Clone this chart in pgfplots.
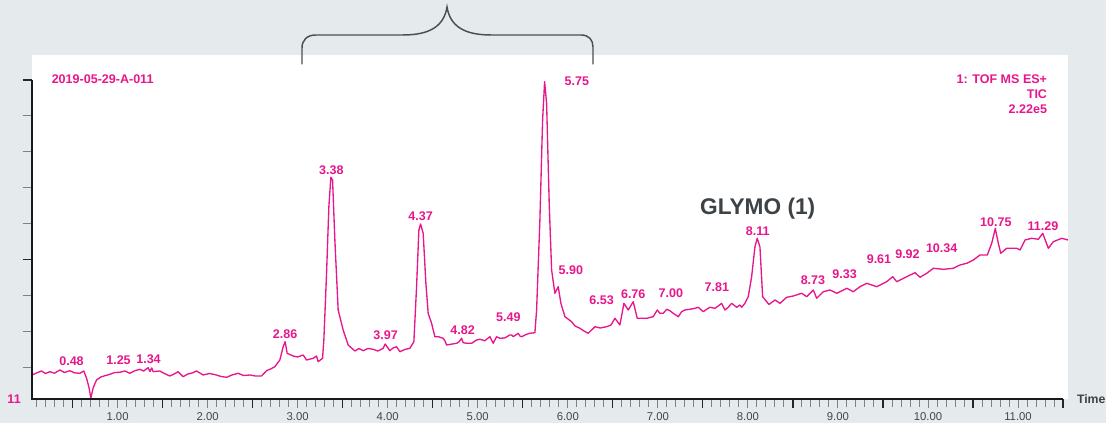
\documentclass[border=0pt]{standalone}
\usepackage{pgfplots}
\pgfplotsset{compat=1.18}
\usepackage{fontspec}
\setmainfont{Liberation Sans}
\definecolor{bggray}{RGB}{229,234,237}
\definecolor{mag}{RGB}{232,22,140}
\definecolor{tickgray}{RGB}{130,130,130}
\definecolor{labelgray}{RGB}{70,70,70}
\definecolor{darktext}{RGB}{61,66,70}
\definecolor{bracegray}{RGB}{74,79,85}
\newcommand{\pk}{\fontsize{9.4pt}{11pt}\selectfont\bfseries}
\begin{document}
\begin{tikzpicture}
\fill[bggray] (0,0) rectangle (829.5pt,317.25pt);
\begin{axis}[
  at={(24pt,18pt)}, anchor=south west,
  scale only axis, width=777pt, height=258pt,
  xmin=0.05, xmax=11.555, ymin=0, ymax=344,
  axis background/.style={fill=white},
  axis line style={draw=none},
  clip=false,
  tick align=outside,
  xtick pos=left, ytick pos=left,
  major tick length=7pt, minor tick length=6pt,
  tick style={color=tickgray, line width=0.7pt},
  xtick={1,2,3,4,5,6,7,8,9,10,11},
  xticklabels={1.00,2.00,3.00,4.00,5.00,6.00,7.00,8.00,9.00,10.00,11.00},
  xticklabel style={font=\fontsize{8.5pt}{10pt}\selectfont, text=labelgray},
  minor xtick={0.1,0.2,...,11.5},
  extra x ticks={0.5,1.5,2.5,3.5,4.5,5.5,6.5,7.5,8.5,9.5,10.5,11.5},
  extra x tick labels={},
  extra x tick style={tick style={color=black!85, line width=0.9pt}},
  ytick={31.8,67.7,103.6,175.4,211.3,247.2,283.1},
  yticklabels={},
  extra y ticks={139.5,319},
  extra y tick labels={},
  extra y tick style={tick style={color=black!85, line width=0.9pt}},
]
\addplot[mag, line width=1pt, line join=round] coordinates {
(0.05,24) (0.10,26) (0.1555,28) (0.20,25.5) (0.2477,27.3) (0.30,25.8) (0.3588,29) (0.41,26.5)
(0.4698,28.3) (0.52,26.2) (0.5809,25.7) (0.6253,28) (0.6553,21) (0.6842,11) (0.7031,0.7)
(0.7286,11) (0.7664,19) (0.8219,22.3) (0.87,23.5) (0.9141,24.7) (0.97,26.5) (1.0252,26.7)
(1.08,28) (1.1363,25.7) (1.19,28.2) (1.2473,29.7) (1.29,28) (1.3395,31.3) (1.36,27.5)
(1.38,31) (1.3951,27.3) (1.4695,28) (1.52,25.5) (1.5806,23) (1.63,25) (1.6728,27.3)
(1.7283,22.3) (1.78,25) (1.83,26) (1.8772,28) (1.9505,24) (2.02,25.5) (2.0993,24)
(2.15,22.5) (2.2104,21.7) (2.27,24) (2.3392,25.7) (2.40,23.5) (2.4692,24) (2.53,23)
(2.5991,23) (2.6547,28.3) (2.70,30) (2.7469,32.3) (2.8024,39) (2.8391,52.3) (2.8613,57.3)
(2.8835,45.7) (2.9501,43) (3.0,42) (3.0612,44) (3.0989,39) (3.1723,40.7) (3.2100,43)
(3.2278,37.3) (3.2767,40.7) (3.2911,59) (3.3211,125.7) (3.3467,192.3) (3.3689,221.7)
(3.3878,219) (3.4133,159) (3.4500,89) (3.5055,69) (3.5611,54) (3.6355,48) (3.68,50.5)
(3.7277,48.3) (3.78,50.5) (3.8388,49.7) (3.89,48) (3.9498,50.7) (3.9720,55) (4.0242,48.3)
(4.06,51) (4.0986,52.3) (4.1353,47.3) (4.19,49.5) (4.2463,50.7) (4.2908,57.3) (4.3208,112.3)
(4.3463,169) (4.3652,175) (4.3941,165.7) (4.4241,115.7) (4.4496,85.7) (4.4874,75.7)
(4.5240,62.3) (4.561,62.3) (4.6162,60.7) (4.635,58.3) (4.6540,54) (4.7650,55.7) (4.794,57.3)
(4.8206,60.7) (4.838,56.3) (4.8761,55.7) (4.932,55.7) (4.987,59) (5.0238,59.7) (5.079,58.3)
(5.135,62.3) (5.1716,55.7) (5.209,62.3) (5.2460,60.7) (5.30,61) (5.357,64) (5.3760,64)
(5.394,62.3) (5.449,65.7) (5.4682,63) (5.487,62.3) (5.543,64.7) (5.5793,65.7) (5.6348,66.3)
(5.6537,89) (5.6903,179) (5.7203,279) (5.7425,317.3) (5.7648,295.7) (5.7936,195.7)
(5.8203,129) (5.8569,105.7) (5.8936,112.3) (5.9236,95.7) (5.9680,82.3) (6.0424,77.3)
(6.08,73) (6.1346,70.7) (6.18,68) (6.2268,65.7) (6.3012,72.3) (6.36,71) (6.4312,72.3)
(6.48,74) (6.5234,80.7) (6.5789,74) (6.6234,95.7) (6.6711,89) (6.7267,97.3) (6.7711,80.7)
(6.8755,80.7) (6.9488,82.3) (6.9932,89) (7.023,85.7) (7.0599,85.7) (7.098,89.7) (7.1343,88.3)
(7.171,85.7) (7.2265,82.3) (7.264,87.3) (7.3009,89) (7.356,89.7) (7.4120,90.7) (7.449,91.7)
(7.5042,87.3) (7.542,89.7) (7.5786,91.7) (7.634,90.7) (7.671,93) (7.7085,95.7) (7.7452,89)
(7.782,91.7) (7.8196,95.7) (7.8751,91.7) (7.912,94) (7.931,91.7) (7.9673,95.7) (8.0040,102.3)
(8.0417,122.3) (8.0784,152.3) (8.1039,160.7) (8.1339,152) (8.1639,102.3) (8.2339,94.5)
(8.3010,99) (8.3566,95.7) (8.4310,101.7) (8.5043,103) (8.5976,105.7) (8.6531,102.3)
(8.7264,109) (8.7642,100.7) (8.8375,107.3) (8.9119,109) (8.9863,105.7) (9.0974,110.7)
(9.1707,107.3) (9.2451,112.3) (9.3195,115.7) (9.4305,112.3) (9.5416,117.3) (9.6083,122.3)
(9.6527,117.3) (9.7637,122.3) (9.8559,126.3) (9.9115,121.7) (9.9859,125.7) (10.0592,130.7)
(10.1703,129.7) (10.2813,130.7) (10.3557,134) (10.4301,135.7) (10.5035,139) (10.5779,144)
(10.6590,144) (10.7078,155.7) (10.7478,170.7) (10.7811,155.7) (10.8078,145.7) (10.8744,150.7)
(10.9855,150.7) (11.0222,149) (11.0777,159) (11.1521,160.7) (11.2254,159.7) (11.2743,165.7)
(11.3365,150.7) (11.3920,157.3) (11.4853,160.7) (11.555,159)
};
% axis lines
\draw[black!90, line width=1.1pt] (axis cs:0.05,319) -- (axis cs:0.05,0) -- (axis cs:11.5,0);
% peak labels
\begin{scope}[every node/.style={text=mag, inner sep=0pt, font=\pk}]
\node at (axis cs:0.4887,38) {0.48};
\node at (axis cs:1.0108,39) {1.25};
\node at (axis cs:1.3440,40) {1.34};
\node at (axis cs:2.8613,65) {2.86};
\node at (axis cs:3.3744,229) {3.38};
\node at (axis cs:3.9765,64) {3.97};
\node at (axis cs:4.3652,183) {4.37};
\node at (axis cs:4.8317,69) {4.82};
\node at (axis cs:5.3405,82.3) {5.49};
\node at (axis cs:6.1013,318) {5.75};
\node at (axis cs:6.0346,129) {5.90};
\node at (axis cs:6.3756,98.3) {6.53};
\node at (axis cs:6.7267,105) {6.76};
\node at (axis cs:7.1454,105.7) {7.00};
\node at (axis cs:7.6563,112.3) {7.81};
\node at (axis cs:8.1084,168.3) {8.11};
\node at (axis cs:8.7226,118.3) {8.73};
\node at (axis cs:9.0748,124.7) {9.33};
\node at (axis cs:9.4558,139.7) {9.61};
\node at (axis cs:9.7723,145) {9.92};
\node at (axis cs:10.1522,150.7) {10.34};
\node at (axis cs:10.7531,177.3) {10.75};
\node at (axis cs:11.2773,173) {11.29};
\node[anchor=west] at (axis cs:0.2666,320) {2019-05-29-A-011};
\node[anchor=east] at (axis cs:11.325,320) {1: TOF MS ES+};
\node[anchor=east] at (axis cs:11.325,304.7) {TIC};
\node[anchor=east] at (axis cs:11.325,290.3) {2.22e5};
\node[anchor=east] at (axis cs:0.05,0) [xshift=-8.25pt] {11};
\end{scope}
\node[anchor=base west, inner sep=0pt, text=darktext, font=\fontsize{17pt}{20pt}\selectfont\bfseries] at (axis cs:7.4675,184) {GLYMO (1)};
\node[anchor=west, inner sep=0pt, text=darktext, font=\fontsize{9.2pt}{11pt}\selectfont\bfseries] at (axis cs:11.652,0) {Time};
\end{axis}
% brace in pixel coordinates
\begin{scope}[yshift=317.25pt, x=0.75pt, y=-0.75pt]
\draw[bracegray, line width=1.1pt, line cap=round]
  (302,64) -- (302,48) .. controls (302,40) and (307,35) .. (316,35) -- (403,35)
  .. controls (430,35) and (444,26) .. (447,7)
  .. controls (450,26) and (464,35) .. (491,35) -- (581,35)
  .. controls (589,35) and (593,40) .. (593,47) -- (593,64);
\end{scope}
\pgfresetboundingbox
\path[use as bounding box] (0,0) rectangle (829.5pt,317.25pt);
\end{tikzpicture}
\end{document}
